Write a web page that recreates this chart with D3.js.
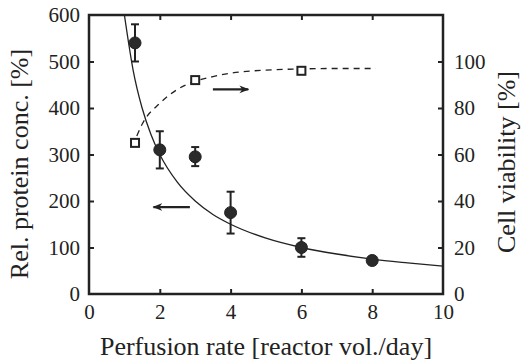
<!DOCTYPE html>
<html>
<head>
<meta charset="utf-8">
<script src="https://cdn.jsdelivr.net/npm/d3@7"></script>
<style>
  body { margin: 0; background: #fff; }
  svg text { font-family: "Liberation Serif", "Times New Roman", serif; fill: #222; }
</style>
</head>
<body>
<div id="chart"></div>
<script>
// measured protein concentration (left axis)
var rateProt = [1.3, 2, 3, 4, 6, 8];
var protein = [540, 310, 295, 175, 100, 72];
var protErrLow = [500, 270, 275, 130, 80, 64];
var protErrHigh = [580, 350, 316, 220, 120, 80];

// cell viability (right axis)
var rateViab = [1.3, 3, 6];
var viability = [65, 92, 96];

// fitted curves
var fitProtX = [1, 1.25, 1.5, 1.75, 2, 2.5, 3, 3.5, 4, 5, 6, 7, 8, 9, 10];
var fitProtY = [600, 480, 400, 343, 300, 240, 200, 171, 150, 120, 100, 86, 75, 67, 60];
var fitViabX = [1.35, 1.5, 2, 2.5, 3, 3.5, 4, 5, 6, 7, 8.1];
var fitViabY = [68, 73, 82, 88, 91.5, 93.5, 95, 96.3, 96.8, 97, 97];

var xTicks = [0, 2, 4, 6, 8, 10];
var yLeftTicks = [0, 100, 200, 300, 400, 500, 600];
var yRightTicks = [0, 20, 40, 60, 80, 100];

const width = 522;
const height = 363;
margin = { top: 15, right: 79, bottom: 69, left: 89 };

x = d3.scaleLinear().domain([0, 10]).range([margin.left, width - margin.right]);
y = d3.scaleLinear().domain([0, 600]).range([height - margin.bottom, margin.top]);
y2 = d3.scaleLinear().domain([0, 120]).range([height - margin.bottom, margin.top]);

const svg = d3.select("div#chart").append("svg")
  .attr("width", width)
  .attr("height", height);

svg.append("defs").append("clipPath").attr("id", "clip")
  .append("rect")
  .attr("x", margin.left).attr("y", margin.top)
  .attr("width", width - margin.left - margin.right)
  .attr("height", height - margin.top - margin.bottom);

// axes (ticks inward)
function styleAxis(g) {
  g.attr("font-family", null).attr("font-size", null);
  g.selectAll(".domain").remove();
  g.selectAll(".tick line").attr("stroke", "#222").attr("stroke-width", 2);
  g.selectAll(".tick text")
    .style("font-family", '"Liberation Serif", "Times New Roman", serif')
    .style("font-size", "21px")
    .attr("fill", "#222");
}

svg.append("g")
  .attr("transform", `translate(0, ${height - margin.bottom})`)
  .call(d3.axisBottom(x).tickValues(xTicks).tickSize(-5).tickPadding(10))
  .call(styleAxis)
  .call((g) => g.selectAll(".tick").filter((d) => d == 0 || d == 10).select("line").remove());

svg.append("g")
  .attr("transform", `translate(0, ${margin.top})`)
  .call(d3.axisTop(x).tickValues([2, 4, 6, 8]).tickSize(-5).tickFormat(""))
  .call(styleAxis);

svg.append("g")
  .attr("transform", `translate(${margin.left}, 0)`)
  .call(d3.axisLeft(y).tickValues(yLeftTicks).tickSize(-5).tickPadding(9))
  .call(styleAxis)
  .call((g) => g.selectAll(".tick").filter((d) => d == 0 || d == 600).select("line").remove());

svg.append("g")
  .attr("transform", `translate(${width - margin.right}, 0)`)
  .call(d3.axisRight(y2).tickValues(yRightTicks).tickSize(-5).tickPadding(11))
  .call(styleAxis)
  .call((g) => g.selectAll(".tick").filter((d) => d == 0).select("line").remove());

// frame
svg.append("rect")
  .attr("x", margin.left).attr("y", margin.top)
  .attr("width", width - margin.left - margin.right)
  .attr("height", height - margin.top - margin.bottom)
  .attr("fill", "none")
  .attr("stroke", "#222")
  .attr("stroke-width", 2.5);

// fitted curves
var protLine = d3.line()
  .x((d, i) => x(fitProtX[i]))
  .y((d) => y(d))
  .curve(d3.curveMonotoneX);

svg.append("path")
  .datum(fitProtY)
  .attr("clip-path", "url(#clip)")
  .attr("fill", "none")
  .attr("stroke", "#222")
  .attr("stroke-width", 1.3)
  .attr("d", protLine);

var viabLine = d3.line()
  .x((d, i) => x(fitViabX[i]))
  .y((d) => y2(d))
  .curve(d3.curveMonotoneX);

svg.append("path")
  .datum(fitViabY)
  .attr("fill", "none")
  .attr("stroke", "#222")
  .attr("stroke-width", 1.3)
  .attr("stroke-dasharray", "6,5")
  .attr("d", viabLine);

// error bars
var errs = svg.append("g").attr("class", "errors")
  .selectAll("g")
  .data(protein)
  .join("g");

errs.append("line")
  .attr("x1", (d, i) => x(rateProt[i]))
  .attr("x2", (d, i) => x(rateProt[i]))
  .attr("y1", (d, i) => y(protErrLow[i]))
  .attr("y2", (d, i) => y(protErrHigh[i]))
  .attr("stroke", "#222")
  .attr("stroke-width", 2);

[protErrLow, protErrHigh].forEach(function (arr) {
  errs.append("line")
    .attr("x1", (d, i) => x(rateProt[i]) - 4)
    .attr("x2", (d, i) => x(rateProt[i]) + 4)
    .attr("y1", (d, i) => y(arr[i]))
    .attr("y2", (d, i) => y(arr[i]))
    .attr("stroke", "#222")
    .attr("stroke-width", 2);
});

// protein points
svg.append("g")
  .selectAll("circle")
  .data(protein)
  .join("circle")
  .attr("cx", (d, i) => x(rateProt[i]))
  .attr("cy", (d) => y(d))
  .attr("r", 6)
  .attr("fill", "#2a2a2a")
  .attr("stroke", "#222")
  .attr("stroke-width", 1);

// viability squares
svg.append("g")
  .selectAll("rect")
  .data(viability)
  .join("rect")
  .attr("x", (d, i) => x(rateViab[i]) - 4)
  .attr("y", (d) => y2(d) - 4)
  .attr("width", 8)
  .attr("height", 8)
  .attr("fill", "#fff")
  .attr("stroke", "#222")
  .attr("stroke-width", 2);

// arrows
var marker = svg.select("defs").append("marker")
  .attr("id", "head")
  .attr("viewBox", "0 0 10 10")
  .attr("refX", 9).attr("refY", 5)
  .attr("markerWidth", 4.5).attr("markerHeight", 4.5)
  .attr("markerUnits", "strokeWidth")
  .attr("orient", "auto");
marker.append("path").attr("d", "M0,1 L10,5 L0,9 L3,5 Z").attr("fill", "#222");

svg.append("line")
  .attr("x1", x(2.85)).attr("x2", x(1.82))
  .attr("y1", y(187)).attr("y2", y(187))
  .attr("stroke", "#222").attr("stroke-width", 2.2)
  .attr("marker-end", "url(#head)");

svg.append("line")
  .attr("x1", x(3.5)).attr("x2", x(4.5))
  .attr("y1", y2(88)).attr("y2", y2(88))
  .attr("stroke", "#222").attr("stroke-width", 2.2)
  .attr("marker-end", "url(#head)");

// axis titles
svg.append("text")
  .attr("x", (margin.left + width - margin.right) / 2)
  .attr("y", 355)
  .attr("text-anchor", "middle")
  .style("font-size", "26px")
  .text("Perfusion rate [reactor vol./day]");

svg.append("text")
  .attr("transform", "translate(28, 164) rotate(-90)")
  .attr("text-anchor", "middle")
  .style("font-size", "26px")
  .text("Rel. protein conc. [%]");

svg.append("text")
  .attr("transform", "translate(515, 162) rotate(-90)")
  .attr("text-anchor", "middle")
  .style("font-size", "26px")
  .text("Cell viability [%]");
</script>
</body>
</html>
